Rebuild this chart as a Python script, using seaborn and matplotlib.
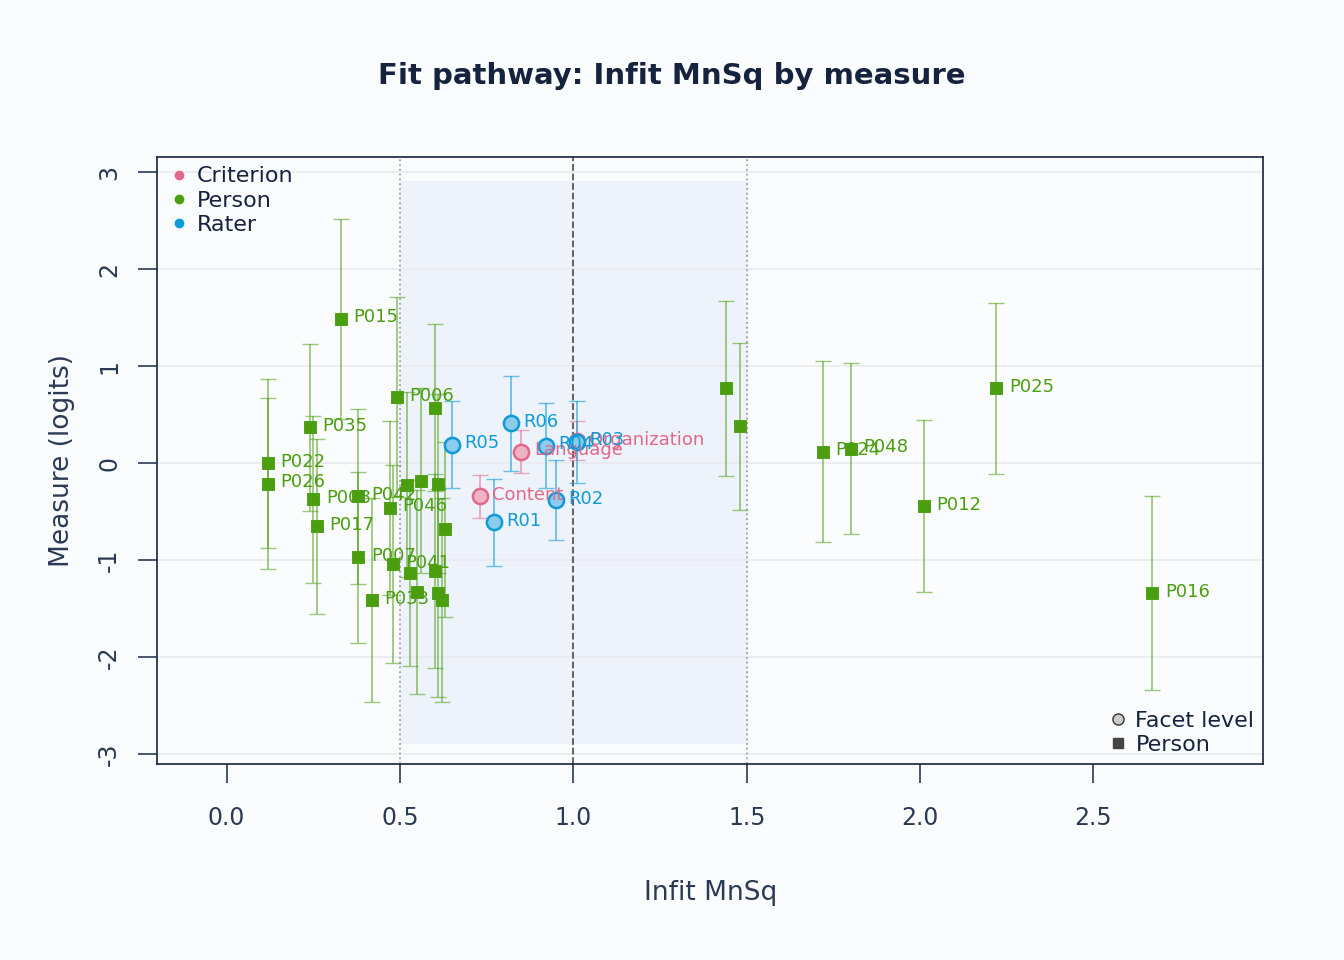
import numpy as np
import pandas as pd
import matplotlib.pyplot as plt
import seaborn as sns
from matplotlib.lines import Line2D

sns.set_theme(style="white")
plt.rcParams['font.family'] = ['DejaVu Sans']
plt.rcParams['axes.unicode_minus'] = False

# persons: label, infit, measure, se
person_labels = ["P015", "P006", "P035", "P022", "P026", "P008", "P042", "P046", "P017", "P007",
                 "P041", "P033", "", "", "", "", "", "", "", "", "", "",
                 "", "", "P024", "P048", "P012", "P025", "P016"]
person_infit = [0.33, 0.49, 0.24, 0.12, 0.12, 0.25, 0.38, 0.47, 0.26, 0.38,
                0.48, 0.42, 0.52, 0.56, 0.61, 0.60, 0.63, 0.53, 0.60, 0.55, 0.61, 0.62,
                1.44, 1.48, 1.72, 1.80, 2.01, 2.22, 2.67]
person_measure = [1.49, 0.68, 0.37, 0.00, -0.21, -0.37, -0.34, -0.46, -0.65, -0.97,
                  -1.04, -1.41, -0.22, -0.18, -0.21, 0.57, -0.68, -1.13, -1.11, -1.33, -1.34, -1.41,
                  0.77, 0.38, 0.12, 0.15, -0.44, 0.77, -1.34]
person_se = [1.03, 1.03, 0.86, 0.87, 0.88, 0.86, 0.90, 0.90, 0.90, 0.88,
             1.02, 1.05, 0.95, 0.95, 0.92, 0.86, 0.90, 0.96, 1.00, 1.05, 1.07, 1.05,
             0.90, 0.86, 0.93, 0.88, 0.89, 0.88, 1.00]

facet_labels = ["Content", "Language", "Organization"]
facet_infit = [0.73, 0.85, 1.01]
facet_measure = [-0.34, 0.12, 0.23]
facet_se = [0.22, 0.22, 0.20]

rater_labels = ["R05", "R06", "R04", "R03", "R02", "R01"]
rater_infit = [0.65, 0.82, 0.92, 1.01, 0.95, 0.77]
rater_measure = [0.19, 0.41, 0.18, 0.22, -0.38, -0.61]
rater_se = [0.45, 0.49, 0.44, 0.42, 0.41, 0.45]

col = {"Criterion": "#E0698A", "Person": "#4A9E10", "Rater": "#0E9BD9"}
bg = "#FBFCFE"
navy = "#16233F"

fig = plt.figure(figsize=(13.44, 9.6), dpi=100, facecolor=bg)
ax = fig.add_axes([0.117, 0.204, 0.823, 0.632], facecolor=bg)

ax.axvspan(0.5, 1.5, ymin=(-2.88 + 3.1) / 6.25, ymax=(2.91 + 3.1) / 6.25, color="#EEF3FB", zorder=0)
for yv in range(-3, 4):
    ax.axhline(yv, color="#E8EAEE", lw=1.2, zorder=0)
ax.axvline(0.5, color="#9AA0AA", ls=":", lw=1.3)
ax.axvline(1.5, color="#9AA0AA", ls=":", lw=1.3)
ax.axvline(1.0, color="#555555", ls="--", lw=1.3)

persons = pd.DataFrame({"infit": person_infit, "measure": person_measure, "se": person_se, "label": person_labels})
facets = pd.DataFrame({"infit": facet_infit, "measure": facet_measure, "se": facet_se, "label": facet_labels})
raters = pd.DataFrame({"infit": rater_infit, "measure": rater_measure, "se": rater_se, "label": rater_labels})

ax.errorbar(persons.infit, persons.measure, yerr=persons.se, fmt="none", ecolor=col["Person"],
            alpha=0.55, capsize=6, lw=1.3, zorder=2)
ax.errorbar(facets.infit, facets.measure, yerr=facets.se, fmt="none", ecolor=col["Criterion"],
            alpha=0.55, capsize=6, lw=1.3, zorder=2)
ax.errorbar(raters.infit, raters.measure, yerr=raters.se, fmt="none", ecolor=col["Rater"],
            alpha=0.6, capsize=6, lw=1.3, zorder=2)

sns.scatterplot(data=persons, x="infit", y="measure", marker="s", s=65, color=col["Person"],
                edgecolor=col["Person"], ax=ax, zorder=3, legend=False)
sns.scatterplot(data=facets, x="infit", y="measure", marker="o", s=120, color="#EFB3C4",
                edgecolor=col["Criterion"], linewidth=1.8, ax=ax, zorder=3, legend=False)
sns.scatterplot(data=raters, x="infit", y="measure", marker="o", s=120, color="#8CCBEA",
                edgecolor=col["Rater"], linewidth=1.8, ax=ax, zorder=3, legend=False)

for df, c in [(persons, col["Person"]), (facets, col["Criterion"]), (raters, col["Rater"])]:
    for _, r in df.iterrows():
        if r.label:
            ax.annotate(r.label, (r.infit, r.measure), xytext=(9, 1), textcoords="offset points",
                        va="center", fontsize=13, color=c, zorder=4)

ax.set_xlim(-0.2, 2.99)
ax.set_ylim(-3.1, 3.15)
ax.set_xticks([0.0, 0.5, 1.0, 1.5, 2.0, 2.5])
ax.set_xticklabels(["0.0", "0.5", "1.0", "1.5", "2.0", "2.5"])
ax.set_yticks(range(-3, 4))
ax.tick_params(axis="both", colors="#2A3A55", labelsize=17, length=14, width=1.2, direction="out",
               bottom=True, left=True, pad=16)
ax.tick_params(axis="y", pad=12)
for t in ax.get_yticklabels():
    t.set_rotation(90)
    t.set_va("center")
for s in ax.spines.values():
    s.set_color(navy)
    s.set_linewidth(1.2)
ax.set_xlabel("Infit MnSq", fontsize=19, color="#2A3A55", labelpad=36)
ax.set_ylabel("Measure (logits)", fontsize=19, color="#2A3A55", labelpad=16)
fig.suptitle("Fit pathway: Infit MnSq by measure", fontsize=21, fontweight="bold", color=navy, y=0.935)

h1 = [Line2D([], [], marker="o", ls="", color=col[k], markersize=6) for k in ["Criterion", "Person", "Rater"]]
l1 = ax.legend(h1, ["Criterion", "Person", "Rater"], loc="upper left", frameon=False, fontsize=16,
               handletextpad=0.2, labelspacing=0.2, borderaxespad=0.2, borderpad=0.2,
               handlelength=1.2, labelcolor=navy)
ax.add_artist(l1)
h2 = [Line2D([], [], marker="o", ls="", markerfacecolor="#CCCCCC", markeredgecolor="#333333", markersize=8),
      Line2D([], [], marker="s", ls="", color="#444444", markersize=7)]
ax.legend(h2, ["Facet level", "Person"], loc="lower right", frameon=False, fontsize=16,
          handletextpad=0.2, labelspacing=0.2, borderaxespad=0.2, borderpad=0.2,
          handlelength=1.2, labelcolor=navy)

fig.savefig("out.png", dpi=100, facecolor=bg)
